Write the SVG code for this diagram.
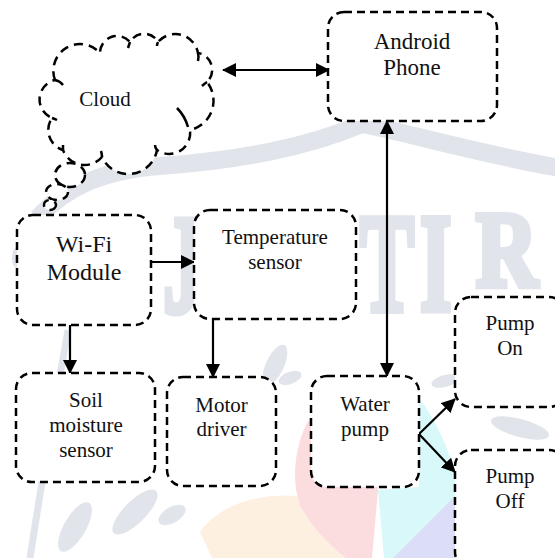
<svg xmlns="http://www.w3.org/2000/svg" width="555" height="558" viewBox="0 0 555 558">
  <style>
    .box{fill:#fff;stroke:#000;stroke-width:2.5;stroke-dasharray:8 5}
    .cloud{fill:#fff;stroke:#000;stroke-width:2.5;stroke-dasharray:9 6}
    .hook{fill:none;stroke:#000;stroke-width:2.5}
    .lbl{font-family:"Liberation Serif","Times New Roman",serif;font-size:21px;fill:#111;text-anchor:middle}
    .big{font-size:23px}
    .conn{stroke:#000;stroke-width:2.2;fill:none}
    .wm{fill:#e1e5eb}
    .wmtxt{font-family:"Liberation Serif","Times New Roman",serif;font-size:140px;font-weight:bold;fill:#e1e5eb;stroke:#e1e5eb;stroke-width:7}
  </style>
  <defs>
    <marker id="ah" markerUnits="userSpaceOnUse" markerWidth="14" markerHeight="14" refX="13" refY="7" orient="auto-start-reverse">
      <path d="M0,0 L14,7 L0,14 Z" fill="#000"/>
    </marker>
  </defs>
  <rect width="555" height="558" fill="#fff"/>

  <!-- faint background emblem -->
  <g id="emblem">
    <path d="M200,532 C220,503 262,493 298,496 C320,512 336,534 346,558 L212,558 Z" fill="#fdf0e1"/>
    <path d="M310,418 C296,440 290,478 300,505 C312,528 330,545 346,558 L372,558 L378,490 L380,420 Z" fill="#fbdcdf"/>
    <path d="M419,398 C436,420 450,450 456,480 L456,558 L384,558 L378,490 L419,487 Z" fill="#d9f8fa"/>
    <path d="M393,558 L455,496 L456,558 Z" fill="#dcdef7"/>
    <path d="M38,218 C66,186 105,170 160,166 C240,160 305,148 362,124 C405,132 470,152 560,168" fill="none" stroke="#e1e5eb" stroke-width="18"/>
    <text class="wmtxt" transform="translate(163,312) scale(0.58,1)">J</text>
    <text class="wmtxt" transform="translate(360,310) scale(0.58,1)">T</text>
    <text class="wmtxt" transform="translate(420,310) scale(0.58,1)">I</text>
    <text class="wmtxt" style="font-size:100px;stroke-width:6" transform="translate(476,286) scale(0.85,1.08)">R</text>
    <path d="M30,558 C42,480 52,420 68,330" fill="none" stroke="#e1e5eb" stroke-width="7"/>
    <ellipse class="wm" cx="16" cy="258" rx="4" ry="10"/>
    <ellipse class="wm" cx="75" cy="527" rx="28" ry="11" transform="rotate(-60 75 527)"/>
    <ellipse class="wm" cx="135" cy="512" rx="30" ry="11" transform="rotate(-45 135 512)"/>
    <ellipse class="wm" cx="172" cy="515" rx="15" ry="8" transform="rotate(-30 172 515)"/>
    <ellipse class="wm" cx="275" cy="365" rx="22" ry="9" transform="rotate(-65 275 365)"/>
    <ellipse class="wm" cx="290" cy="378" rx="12" ry="6" transform="rotate(-20 290 378)"/>
    <ellipse class="wm" cx="445" cy="381" rx="14" ry="6" transform="rotate(-15 445 381)"/>
    <ellipse class="wm" cx="520" cy="428" rx="30" ry="9" transform="rotate(15 520 428)"/>
  </g>

  <!-- connectors -->
  <g id="connectors">
    <line class="conn" x1="223" y1="70" x2="329" y2="70" marker-start="url(#ah)" marker-end="url(#ah)"/>
    <line class="conn" x1="151" y1="262" x2="194" y2="262" marker-end="url(#ah)"/>
    <line class="conn" x1="70" y1="325" x2="70" y2="373" marker-end="url(#ah)"/>
    <line class="conn" x1="213" y1="319" x2="213" y2="377" marker-end="url(#ah)"/>
    <line class="conn" x1="387" y1="121" x2="387" y2="376" marker-start="url(#ah)" marker-end="url(#ah)"/>
    <line class="conn" x1="419" y1="434" x2="455" y2="399" marker-end="url(#ah)"/>
    <line class="conn" x1="419" y1="434" x2="455" y2="472" marker-end="url(#ah)"/>
  </g>

  <g id="cloud">
    <ellipse class="cloud" cx="70" cy="175" rx="15" ry="12"/>
    <ellipse class="cloud" cx="57" cy="192" rx="11" ry="8"/>
    <ellipse class="cloud" cx="50" cy="205" rx="6" ry="5"/>
    <path class="cloud" d="M55,80 A26.7,26.7 0 0 1 100,53 A17,17 0 0 1 130,42 A16,16 0 0 1 158,42 A23,23 0 0 1 198,53 A17,17 0 0 1 207,82 A30,30 0 0 1 190,130 A21,21 0 0 1 157,150 A29,29 0 0 1 102,157 A23,23 0 0 1 63,150 A21,21 0 0 1 52,118 A20,20 0 0 1 55,80 Z"/>
    <path class="hook" d="M55,80 q5,1 8,5 M130,42 q-1,3 -2,6 M158,42 q-1,2 -1,4 M198,53 q1,4 0,8 M207,82 q-3,2 -5,4 M177,108 q8,8 11,19 M157,150 q-2,-2 -2,-5 M102,157 q0,-3 -1,-6 M63,150 q0,-3 0,-5 M52,118 q3,1 5,2"/>
    <text class="lbl" x="105" y="106">Cloud</text>
  </g>

  <g id="android">
    <rect class="box" x="328" y="12" width="169" height="109" rx="16"/>
    <text class="lbl big" x="412" y="49">Android</text>
    <text class="lbl big" x="412" y="75">Phone</text>
  </g>

  <g id="wifi">
    <rect class="box" x="17" y="215" width="134" height="110" rx="16"/>
    <text class="lbl" style="font-size:24px" x="84" y="252">Wi-Fi</text>
    <text class="lbl" style="font-size:24px" x="84" y="280">Module</text>
  </g>

  <g id="temperature">
    <rect class="box" x="194" y="210" width="162" height="109" rx="16"/>
    <text class="lbl" x="275" y="244">Temperature</text>
    <text class="lbl" x="275" y="269">sensor</text>
  </g>

  <g id="soil">
    <rect class="box" x="16" y="373" width="139" height="109" rx="16"/>
    <text class="lbl" x="86" y="407">Soil</text>
    <text class="lbl" x="86" y="432">moisture</text>
    <text class="lbl" x="86" y="457">sensor</text>
  </g>

  <g id="motor">
    <rect class="box" x="167" y="377" width="109" height="109" rx="16"/>
    <text class="lbl" x="221.5" y="412">Motor</text>
    <text class="lbl" x="221.5" y="436">driver</text>
  </g>

  <g id="water">
    <rect class="box" x="311" y="376" width="108" height="111" rx="16"/>
    <text class="lbl" x="365" y="411">Water</text>
    <text class="lbl" x="365" y="436">pump</text>
  </g>

  <g id="pump-on">
    <rect class="box" x="455" y="297" width="110" height="110" rx="16"/>
    <text class="lbl" x="510" y="330">Pump</text>
    <text class="lbl" x="510" y="355">On</text>
  </g>

  <g id="pump-off">
    <rect class="box" x="455" y="450" width="110" height="118" rx="16"/>
    <text class="lbl" x="510" y="483">Pump</text>
    <text class="lbl" x="510" y="508">Off</text>
  </g>
</svg>
